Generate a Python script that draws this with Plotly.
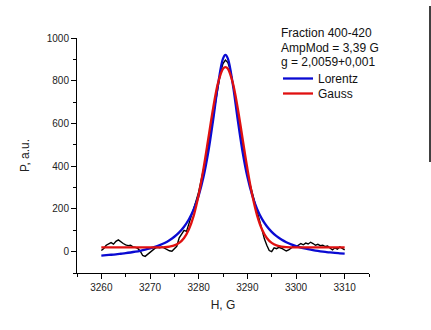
import plotly.graph_objects as go

# Measured EPR spectrum (magnetic field H in gauss, signal P in a.u.)
field_data = [3260.0 + 0.5 * i for i in range(101)]
signal_data = [
    5, 15, 30, 38, 42, 35, 48, 55, 45, 38,
    32, 28, 30, 22, 20, 15, 2, -18, -22, -12,
    -2, 8, 15, 20, 18, 22, 16, 12, 4, 2,
    14, 25, 65, 85, 100, 95, 130, 160, 200, 240,
    280, 330, 380, 440, 500, 570, 640, 710, 780, 840,
    880, 897, 885, 850, 790, 720, 650, 570, 500, 430,
    370, 320, 275, 240, 195, 140, 95, 60, 30, 5,
    0, 18, 14, 20, 16, 10, 3, 8, 18, 26,
    22, 30, 38, 32, 40, 36, 44, 38, 30, 34,
    28, 30, 24, 26, 15, 8, 18, 12, 22, 15,
    8,
]

# Field grid of the fitted curves
field_fit = [float(v) for v in range(3260, 3286)] + [3285.5] + [float(v) for v in range(3286, 3311)]

lorentz_fit = [
    -18.3, -16.6, -14.6, -12.5, -9.9, -7.2, -4.0, -0.3, 4.0, 9.0,
    14.9, 21.9, 30.4, 40.7, 53.6, 69.6, 90.0, 116.5, 151.4, 198.4,
    262.3, 350.1, 469.1, 620.9, 785.6, 903.4, 920.6, 903.5, 786.0, 621.6,
    470.1, 351.4, 263.8, 200.2, 153.5, 118.9, 92.7, 72.5, 56.8, 44.2,
    34.2, 26.0, 19.2, 13.6, 8.9, 4.9, 1.5, -1.5, -3.9, -6.2,
    -8.0, -9.7,
]

gauss_fit = [
    20, 20, 20, 20, 20, 20, 20, 20, 20, 20,
    20, 20, 20, 21, 24, 29, 41, 64, 105, 170,
    266, 390, 532, 675, 791, 856, 864, 856, 791, 675,
    532, 390, 266, 170, 105, 64, 41, 29, 24, 21,
    20, 20, 20, 20, 20, 20, 20, 20, 20, 20,
    20, 20,
]

info_lines = ["Fraction 400-420", "AmpMod = 3,39 G", "g = 2,0059+0,001"]

FONT = "Arial, Liberation Sans, sans-serif"

# Plot-area geometry in pixels, used to place paper-referenced items
L, R, T, B = 77, 369, 38, 273
W, H = R - L, B - T


def px(xp):
    return (xp - L) / W


def py(yp):
    return (B - yp) / H


fig = go.Figure()
fig.add_trace(go.Scatter(
    x=field_data, y=signal_data, mode="lines",
    line=dict(color="#000000", width=1.4), showlegend=False,
))
fig.add_trace(go.Scatter(
    x=field_fit, y=lorentz_fit, mode="lines", name="Lorentz", legend="legend",
    line=dict(color="#0a0ad2", width=2.3, shape="spline"),
))
fig.add_trace(go.Scatter(
    x=field_fit, y=gauss_fit, mode="lines", name="Gauss", legend="legend2",
    line=dict(color="#e01010", width=2.3, shape="spline"),
))

axis_common = dict(
    showline=True, linecolor="black", linewidth=1,
    ticks="outside", ticklen=5, tickcolor="black", tickwidth=1,
    showgrid=False, zeroline=False,
    tickfont=dict(family=FONT, size=10, color="#222222"),
)

fig.update_xaxes(
    range=[3255, 3315], tick0=3260, dtick=10,
    minor=dict(ticks="outside", ticklen=3, dtick=5, tick0=3255, tickcolor="black"),
    title=dict(text="H, G", font=dict(family=FONT, size=12, color="#222222"), standoff=8),
    **axis_common,
)
fig.update_yaxes(
    range=[-100, 1000], tick0=0, dtick=200,
    minor=dict(ticks="outside", ticklen=3, dtick=100, tickcolor="black"),
    title=dict(text="P, a.u.", font=dict(family=FONT, size=12, color="#222222"), standoff=14),
    **axis_common,
)

for i, line in enumerate(info_lines):
    fig.add_annotation(
        xref="paper", yref="paper", x=px(279), y=py(33 + 14.6 * i),
        xanchor="left", yanchor="middle", showarrow=False, text=line,
        font=dict(family=FONT, size=12, color="#111111"),
    )

# Thin rule at the right edge of the page
fig.add_shape(
    type="line", xref="paper", yref="paper",
    x0=px(430), x1=px(430), y0=py(6), y1=py(162),
    line=dict(color="black", width=1.5),
)

legend_style = dict(
    xanchor="left", yanchor="top",
    bgcolor="rgba(0,0,0,0)", borderwidth=0,
    font=dict(family=FONT, size=12, color="#111111"),
    itemwidth=30,
)

fig.update_layout(
    width=431, height=330,
    margin=dict(l=L, r=431 - R, t=T, b=330 - B),
    paper_bgcolor="white", plot_bgcolor="white",
    showlegend=True,
    legend=dict(x=px(278), y=py(64), **legend_style),
    legend2=dict(x=px(278), y=py(79), **legend_style),
)

fig.write_html("out.html")
